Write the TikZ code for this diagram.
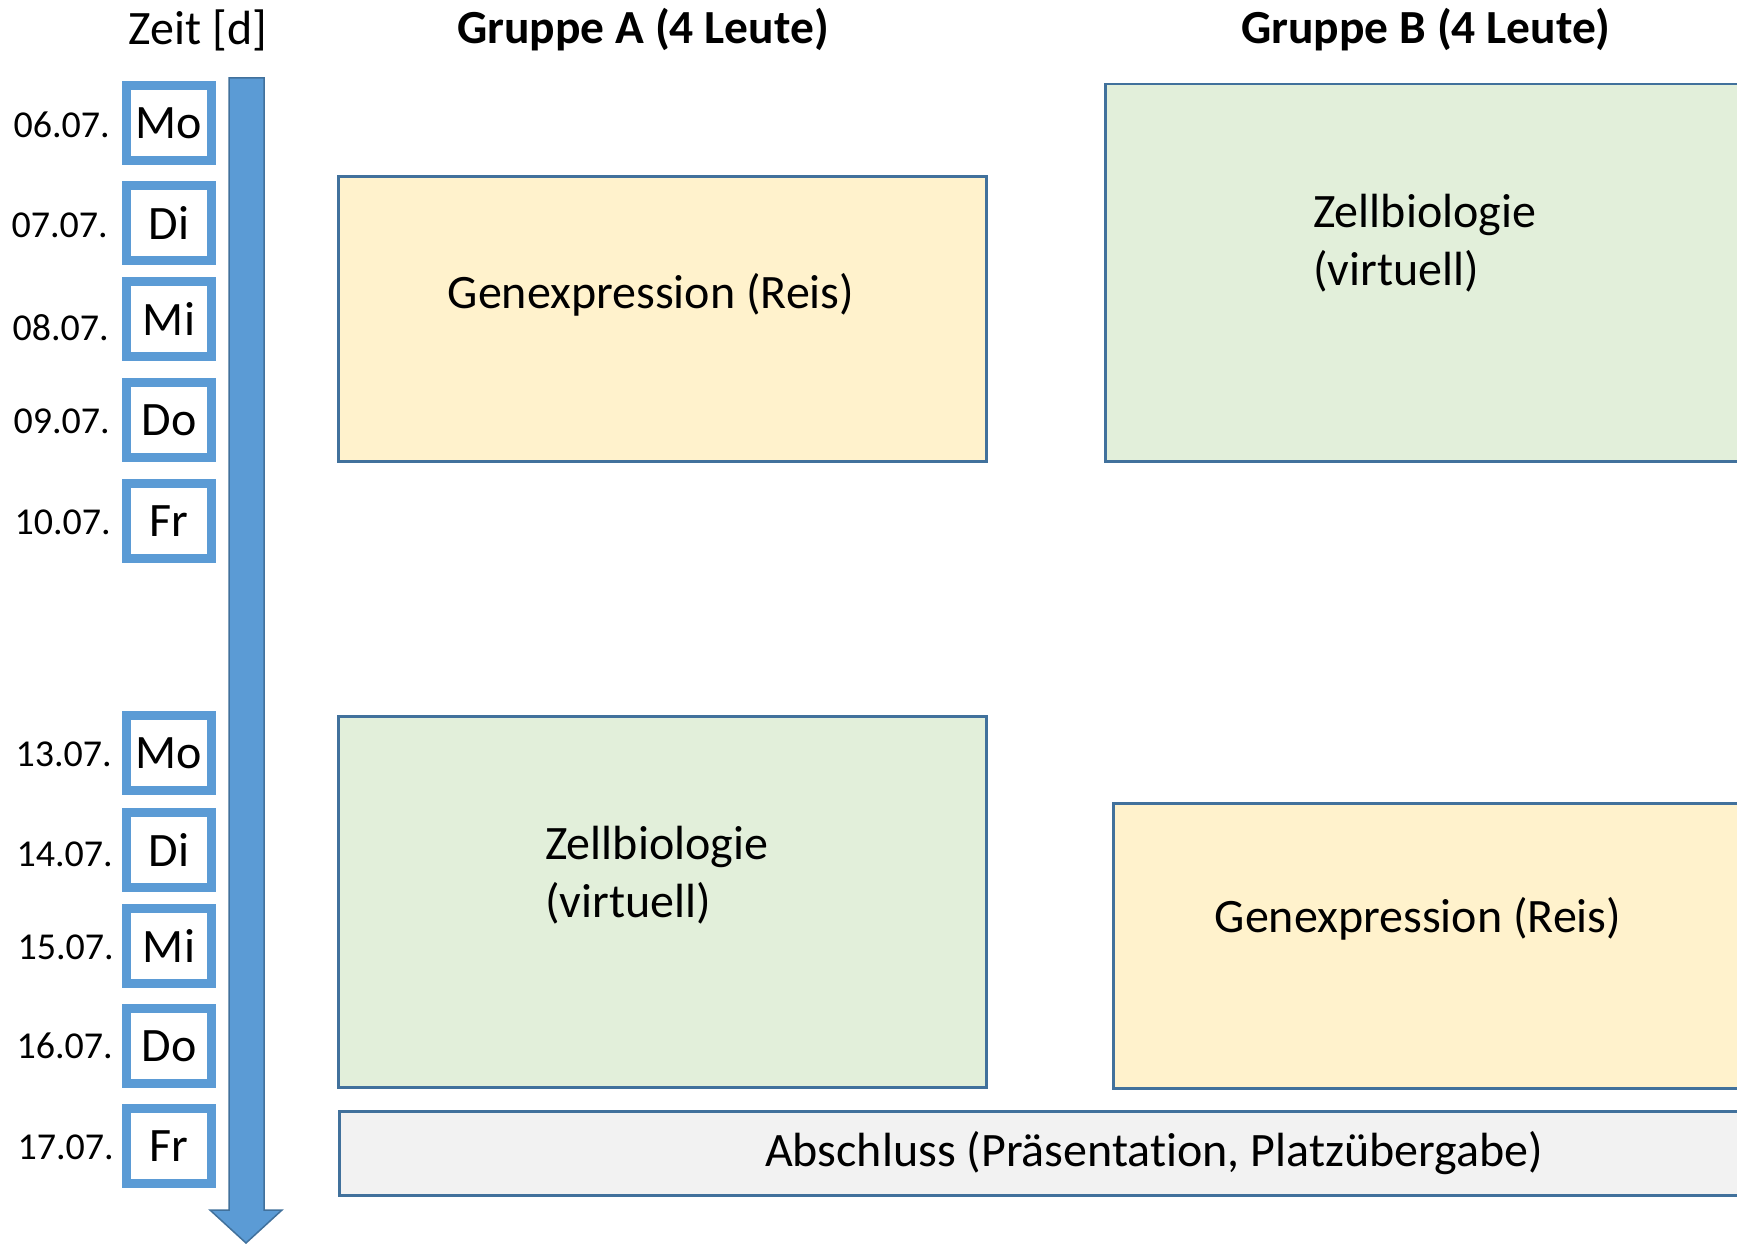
\documentclass[tikz,border=0pt]{standalone}
\usepackage{fontspec}
\setmainfont{Carlito}[Ligatures=NoCommon]
\definecolor{dayblue}{HTML}{5B9BD5}
\definecolor{edgeblue}{HTML}{41719C}
\definecolor{genfill}{HTML}{FFF2CC}
\definecolor{zellfill}{HTML}{E2EFDA}
\definecolor{endfill}{HTML}{F2F2F2}
\begin{document}
\begin{tikzpicture}[x=1pt,y=-1pt,
  daybox/.style={draw=dayblue, line width=8.5pt, fill=white, minimum width=85pt, minimum height=75pt, inner sep=0pt, font=\fontsize{48}{58}\selectfont},
  datelbl/.style={anchor=east, inner sep=0pt, font=\fontsize{38}{46}\selectfont},
  block/.style={draw=edgeblue, line width=2.5pt, anchor=north west, inner sep=0pt},
  blocktext/.style={inner sep=0pt, font=\fontsize{48}{58}\selectfont, align=left},
  header/.style={inner sep=0pt, font=\fontsize{47.5}{56}\selectfont\bfseries},
]
\useasboundingbox (0,0) rectangle (1737,1244);
\clip (0,0) rectangle (1737,1244);
\fill[white] (0,0) rectangle (1737,1244);

% headers
\node[inner sep=0pt, font=\fontsize{48}{56}\selectfont] (zeit) at (198,30) {Zeit [d]};
\node[header] (grA) at (643,30) {Gruppe A (4 Leute)};
\node[header] (grB) at (1426,30) {Gruppe B (4 Leute)};

% time arrow
\filldraw[fill=dayblue, draw=edgeblue, line width=1.5pt, line join=miter]
  (229,78) -- (264,78) -- (264,1210) -- (282,1210) -- (246,1243) -- (210,1210) -- (229,1210) -- cycle;

% day boxes
\node[daybox] (mo1) at (169,123) {Mo};
\node[daybox] (di1) at (169,223) {Di};
\node[daybox] (mi1) at (169,319) {Mi};
\node[daybox] (do1) at (169,420) {Do};
\node[daybox] (fr1) at (169,521) {Fr};
\node[daybox] (mo2) at (169,753) {Mo};
\node[daybox] (di2) at (169,850) {Di};
\node[daybox] (mi2) at (169,946) {Mi};
\node[daybox] (do2) at (169,1046) {Do};
\node[daybox] (fr2) at (169,1146) {Fr};

% dates
\node[datelbl] (d1) at (110,125) {06.07.};
\node[datelbl] (d2) at (108,225) {07.07.};
\node[datelbl] (d3) at (109,328) {08.07.};
\node[datelbl] (d4) at (110,421) {09.07.};
\node[datelbl] (d5) at (111,522) {10.07.};
\node[datelbl] (d6) at (112,754) {13.07.};
\node[datelbl] (d7) at (113,854) {14.07.};
\node[datelbl] (d8) at (114,947) {15.07.};
\node[datelbl] (d9) at (113,1046) {16.07.};
\node[datelbl] (d10) at (114,1147) {17.07.};

% blocks
\node[block, fill=genfill, minimum width=648pt, minimum height=285pt] (genA) at (337,175) {};
\node[block, fill=zellfill, minimum width=656pt, minimum height=377pt] (zellB) at (1104,83) {};
\node[block, fill=zellfill, minimum width=648pt, minimum height=371pt] (zellA) at (337,715) {};
\node[block, fill=genfill, minimum width=648pt, minimum height=285pt] (genB) at (1112,802) {};
\node[block, fill=endfill, minimum width=1422pt, minimum height=84pt] (absch) at (338,1110) {};

% block texts
\node[blocktext] (tgenA) at (651,295) {Genexpression (Reis)};
\node[blocktext, anchor=west] (tzellB) at (1313,243) {Zellbiologie\\(virtuell)};
\node[blocktext, anchor=west] (tzellA) at (545,875) {Zellbiologie\\(virtuell)};
\node[blocktext] (tgenB) at (1418,919) {Genexpression (Reis)};
\node[blocktext] (tabsch) at (1154,1153) {Abschluss (Präsentation, Platzübergabe)};
\end{tikzpicture}
\end{document}
